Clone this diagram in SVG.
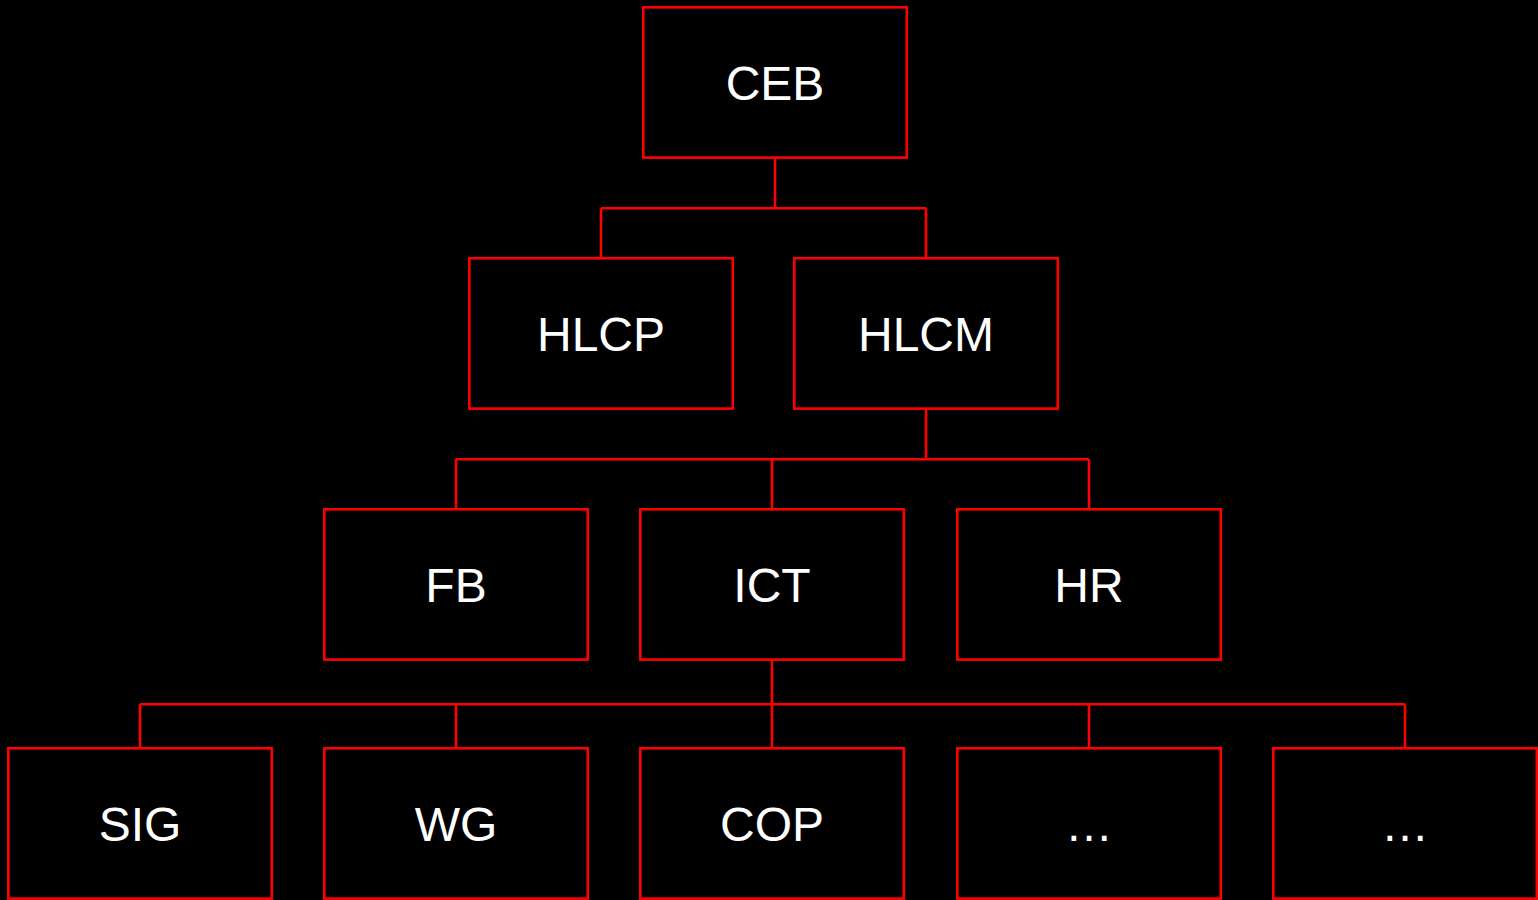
<svg xmlns="http://www.w3.org/2000/svg" width="1538" height="900" viewBox="0 0 1538 900">
  <style>
    .box { fill: #000; stroke: #ff0000; stroke-width: 2.6; }
    .lbl { fill: #fff; font-family: "Liberation Sans", Arial, sans-serif; font-size: 48px; text-anchor: middle; }
    .link { fill: none; stroke: #ff0000; stroke-width: 2.6; }
  </style>
  <rect width="1538" height="900" fill="#000"/>

  <!-- org-chart links -->
  <g id="connectors">
    <path class="link" d="M775 158 V208.3 M601 208.3 H926 M601 208.3 V258 M926 208.3 V258"/>
    <path class="link" d="M926 409 V459.3 M456 459.3 H1089 M456 459.3 V509 M772 459.3 V509 M1089 459.3 V509"/>
    <path class="link" d="M772 660 V704.3 M140 704.3 H1405 M140 704.3 V748 M456 704.3 V748 M772 704.3 V748 M1089 704.3 V748 M1405 704.3 V748"/>
  </g>

  <g id="ceb"><rect class="box" x="643.3" y="7.3" width="263.5" height="150.3"/><text class="lbl" x="775" y="100">CEB</text></g>

  <g id="hlcp"><rect class="box" x="469.3" y="258.3" width="263.5" height="150.3"/><text class="lbl" x="601" y="351">HLCP</text></g>
  <g id="hlcm"><rect class="box" x="794.3" y="258.3" width="263.5" height="150.3"/><text class="lbl" x="926" y="351">HLCM</text></g>

  <g id="fb"><rect class="box" x="324.3" y="509.3" width="263.5" height="150.3"/><text class="lbl" x="456" y="602">FB</text></g>
  <g id="ict"><rect class="box" x="640.3" y="509.3" width="263.5" height="150.3"/><text class="lbl" x="772" y="602">ICT</text></g>
  <g id="hr"><rect class="box" x="957.3" y="509.3" width="263.5" height="150.3"/><text class="lbl" x="1089" y="602">HR</text></g>

  <g id="sig"><rect class="box" x="8.3" y="748.3" width="263.5" height="150.3"/><text class="lbl" x="140" y="841">SIG</text></g>
  <g id="wg"><rect class="box" x="324.3" y="748.3" width="263.5" height="150.3"/><text class="lbl" x="456" y="841">WG</text></g>
  <g id="cop"><rect class="box" x="640.3" y="748.3" width="263.5" height="150.3"/><text class="lbl" x="772" y="841">COP</text></g>
  <g id="more1"><rect class="box" x="957.3" y="748.3" width="263.5" height="150.3"/><text class="lbl" x="1089" y="841">…</text></g>
  <g id="more2"><rect class="box" x="1273.3" y="748.3" width="263.5" height="150.3"/><text class="lbl" x="1405" y="841">…</text></g>
</svg>
